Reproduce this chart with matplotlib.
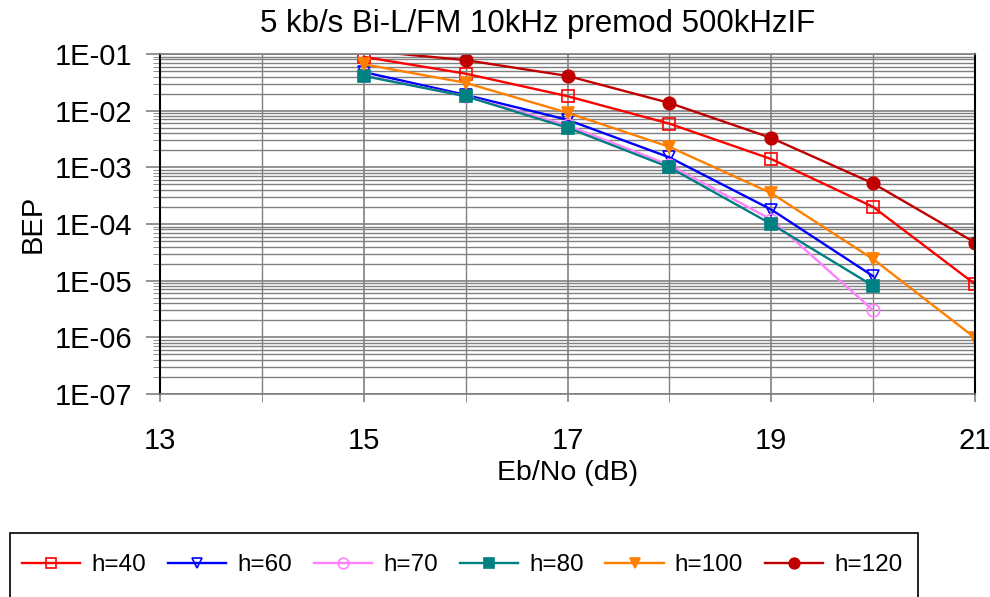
import numpy as np
import matplotlib
matplotlib.use("Agg")
import matplotlib.pyplot as plt
from matplotlib.patches import Rectangle
from matplotlib.ticker import LogLocator, FixedLocator, MultipleLocator, NullFormatter

plt.rcParams['font.family'] = ['Liberation Sans', 'DejaVu Sans']

# Eb/No (dB) and BEP
ebno = [15, 16, 17, 18, 19, 20, 21]
labels = ['h=40', 'h=60', 'h=70', 'h=80', 'h=100', 'h=120']
bep_h40 = [0.089, 0.045, 0.018, 0.0059, 0.0014, 2.0e-4, 8.7e-6]
bep_h60 = [0.048, 0.019, 0.0069, 0.0015, 1.8e-4, 1.2e-5]
bep_h70 = [0.042, 0.018, 0.0055, 0.0011, 1.2e-4, 3.0e-6]
bep_h80 = [0.041, 0.018, 0.0050, 0.0010, 1.0e-4, 8.1e-6]
bep_h100 = [0.066, 0.031, 0.0092, 0.0023, 3.5e-4, 2.4e-5, 9.8e-7]
bep_h120 = [0.115, 0.078, 0.041, 0.0137, 0.0033, 5.2e-4, 4.7e-5]

series = [bep_h40, bep_h60, bep_h70, bep_h80, bep_h100, bep_h120]
colors = ['#FF0000', '#0000FF', '#FF80FF', '#008080', '#FF8000', '#C00000']
markers = ['s', 'v', 'o', 's', 'v', 'o']
filled = [False, False, False, True, True, True]

ymin, ymax = 1e-7, 1e-1

fig = plt.figure(figsize=(9.9, 5.97), dpi=100)
ax = fig.add_axes([160/990, 1-394/597, (975-160)/990, (394-54)/597])

for y, lab, c, m, f in zip(series, labels, colors, markers, filled):
    # like the spreadsheet, markers outside the plot area are not drawn
    keep = [i for i, v in enumerate(y) if v <= ymax]
    ax.plot(ebno[:len(y)], y, color=c, lw=1.7, marker=m, ms=9,
            markerfacecolor=c if f else 'none', markeredgecolor=c,
            markeredgewidth=1.2, label=lab, markevery=keep)

ax.set_yscale('log')
ax.set_ylim(ymin, ymax)
ax.set_xlim(13, 21)
ax.xaxis.set_major_locator(FixedLocator([13, 15, 17, 19, 21]))
ax.xaxis.set_minor_locator(MultipleLocator(1))
ax.yaxis.set_major_locator(LogLocator(base=10, numticks=10))
ax.yaxis.set_minor_locator(LogLocator(base=10, subs=np.arange(2, 10), numticks=10))
ax.yaxis.set_minor_formatter(NullFormatter())
ax.set_yticks([10.0**k for k in range(-7, 0)])
ax.set_yticklabels(['1E-0%d' % k for k in range(7, 0, -1)])

ax.grid(True, which='major', color='#808080', lw=1.2)
ax.grid(True, which='minor', color='#808080', lw=1.0)
ax.set_axisbelow(True)

ax.tick_params(axis='both', which='major', labelsize=21, color='#808080', width=1.2)
ax.tick_params(axis='y', which='major', length=10, direction='out', pad=10)
ax.tick_params(axis='y', which='minor', length=10, direction='inout', color='#808080')
ax.tick_params(axis='x', which='both', length=6, direction='out', color='#808080', pad=18)

for s in ['top', 'bottom']:
    ax.spines[s].set_color('#808080')
    ax.spines[s].set_linewidth(1.2)
for s in ['left', 'right']:
    ax.spines[s].set_color('black')
    ax.spines[s].set_linewidth(1.5)

fig.text(538/990, 1-24/597, '5 kb/s Bi-L/FM 10kHz premod 500kHzIF',
         fontsize=22.5, ha='center', va='center')
ax.set_xlabel('Eb/No (dB)', fontsize=20.5, labelpad=3)
ax.set_ylabel('BEP', fontsize=21, labelpad=6)

fig.patches.append(Rectangle((10/990, -0.05), (918-10)/990, 1-533/597+0.05,
                             transform=fig.transFigure, fill=False,
                             edgecolor='black', lw=1.2))
fig.legend(loc='center left', bbox_to_anchor=(22/990, 1-565/597), ncol=6,
           frameon=False, fontsize=17.5, handlelength=2.4, handletextpad=0.45,
           columnspacing=0.9, borderaxespad=0, borderpad=0, markerscale=0.85)

fig.savefig('out.png', dpi=100)
